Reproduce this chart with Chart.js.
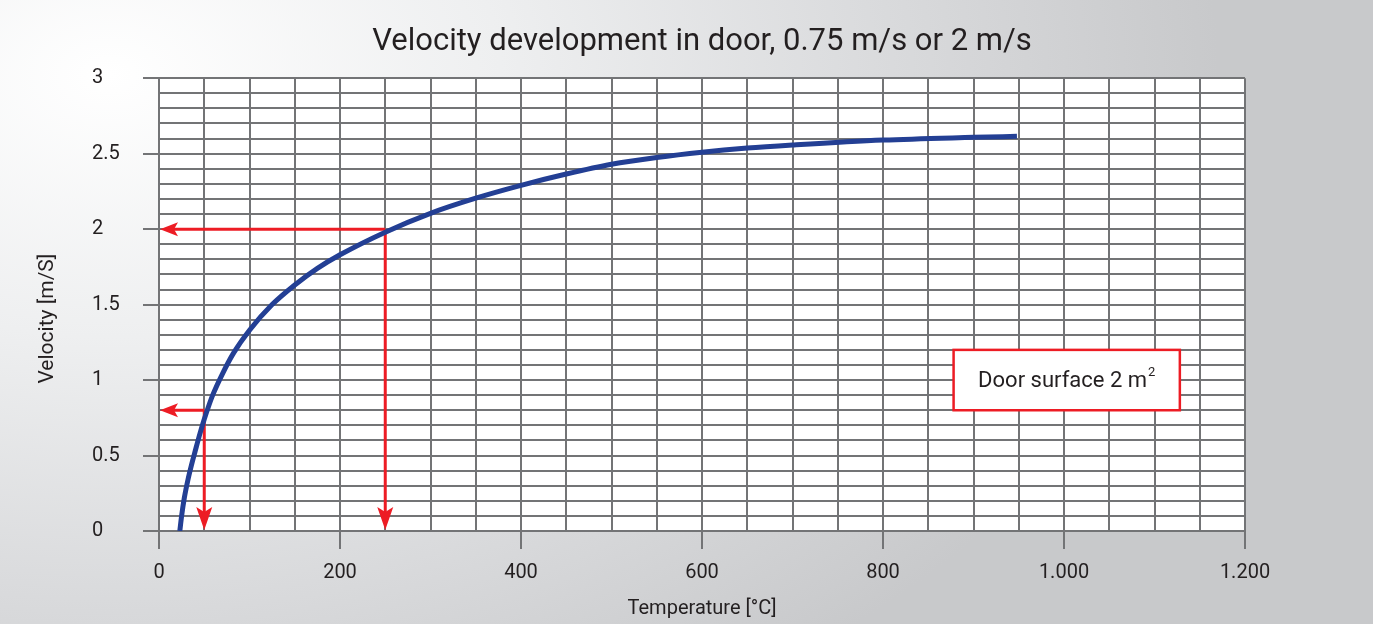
<!DOCTYPE html>
<html>
<head>
<meta charset="utf-8">
<script src="https://cdn.jsdelivr.net/npm/chart.js@4.4.1/dist/chart.umd.min.js"></script>
<style>
  html, body { margin: 0; padding: 0; }
  body {
    width: 1373px; height: 624px; overflow: hidden;
    background: radial-gradient(ellipse 95% 140% at 8% 12%, #ffffff 0%, #eeeff0 30%, #d9dadc 60%, #c8c9cb 85%);
  }
  #wrap { position: relative; width: 1373px; height: 624px; }
</style>
</head>
<body>
<div id="wrap"><canvas id="mycanvas" width="1373" height="624"></canvas></div>
<script>
// curve
var temperature = [23, 25, 28, 32, 36, 40, 45, 50, 55, 60, 70, 82, 100, 125, 150, 175, 200, 250, 300, 350, 400, 450, 500, 550, 600, 650, 700, 800, 900, 948];
var velocity    = [0, 0.10, 0.22, 0.34, 0.44, 0.53, 0.64, 0.74, 0.83, 0.91, 1.04, 1.175, 1.33, 1.50, 1.63, 1.74, 1.83, 1.98, 2.105, 2.205, 2.29, 2.365, 2.43, 2.475, 2.51, 2.537, 2.557, 2.59, 2.608, 2.615];

// red reading arrows: start point on the curve
var arrowTemp = [250, 50];
var arrowVel  = [2, 0.8];

// note box, in data units
var noteText = 'Door surface 2 m';
var noteSup  = '2';
var noteX = [878, 1128];
var noteY = [0.8, 1.2];

var xTicks = [0, 200, 400, 600, 800, 1000, 1200];
var yTicks = [0, 0.5, 1, 1.5, 2, 2.5, 3];

var FONT = 'Roboto, "Open Sans", sans-serif';
var INK = '#231f20';
var GRID = '#737476';
var RED = '#ed1c24';

function isMajor(v, list) {
	for (var i = 0; i < list.length; i++) {
		if (Math.abs(v - list[i]) < 1e-6) return true;
	}
	return false;
}

var points = [];
for (var i = 0; i < temperature.length; i++) {
	points.push({x: temperature[i], y: velocity[i]});
}

var extras = {
	id: 'extras',
	beforeDraw: function(chart) {
		var a = chart.chartArea, ctx = chart.ctx;
		ctx.save();
		ctx.fillStyle = '#ffffff';
		ctx.fillRect(a.left, a.top, a.right - a.left, a.bottom - a.top);
		ctx.restore();
	},
	beforeDatasetsDraw: function(chart) {
		var ctx = chart.ctx, xs = chart.scales.x, ys = chart.scales.y;
		ctx.save();
		ctx.strokeStyle = RED;
		ctx.fillStyle = RED;
		ctx.lineWidth = 3;
		for (var i = 0; i < arrowTemp.length; i++) {
			var px = xs.getPixelForValue(arrowTemp[i]);
			var py = ys.getPixelForValue(arrowVel[i]);
			var x0 = xs.getPixelForValue(0);
			var y0 = ys.getPixelForValue(0);
			ctx.beginPath();
			ctx.moveTo(x0 + 14, py); ctx.lineTo(px, py);
			ctx.moveTo(px, py); ctx.lineTo(px, y0 - 14);
			ctx.stroke();
			// left head
			ctx.beginPath();
			ctx.moveTo(x0 + 1, py);
			ctx.lineTo(x0 + 19, py - 7);
			ctx.lineTo(x0 + 15, py);
			ctx.lineTo(x0 + 19, py + 7);
			ctx.closePath();
			ctx.fill();
			// down head
			ctx.beginPath();
			ctx.moveTo(px, y0 - 1);
			ctx.lineTo(px - 8, y0 - 24);
			ctx.lineTo(px, y0 - 19);
			ctx.lineTo(px + 8, y0 - 24);
			ctx.closePath();
			ctx.fill();
		}
		ctx.restore();
	},
	afterDatasetsDraw: function(chart) {
		var ctx = chart.ctx, xs = chart.scales.x, ys = chart.scales.y;
		var l = xs.getPixelForValue(noteX[0]), r = xs.getPixelForValue(noteX[1]);
		var t = ys.getPixelForValue(noteY[1]), b = ys.getPixelForValue(noteY[0]);
		ctx.save();
		ctx.fillStyle = '#ffffff';
		ctx.fillRect(l, t, r - l, b - t);
		ctx.strokeStyle = RED;
		ctx.lineWidth = 2.5;
		ctx.strokeRect(l, t, r - l, b - t);
		ctx.fillStyle = INK;
		ctx.textBaseline = 'middle';
		ctx.font = '22px ' + FONT;
		var w1 = ctx.measureText(noteText).width;
		ctx.font = '13px ' + FONT;
		var w2 = ctx.measureText(noteSup).width;
		var sx = (l + r) / 2 - (w1 + w2 + 1) / 2;
		var cy = (t + b) / 2 + 1;
		ctx.font = '22px ' + FONT;
		ctx.textAlign = 'left';
		ctx.fillText(noteText, sx, cy);
		ctx.font = '13px ' + FONT;
		ctx.fillText(noteSup, sx + w1 + 1, cy - 8);
		// y axis title
		var a = chart.chartArea;
		ctx.translate(48, (a.top + a.bottom) / 2 + 14);
		ctx.rotate(-Math.PI / 2);
		ctx.textAlign = 'center';
		ctx.font = '21px ' + FONT;
		ctx.fillText('Velocity [m/S]', 0, 0);
		ctx.restore();
	}
};

var ctx = document.getElementById('mycanvas');
var chart = new Chart(ctx, {
	type: 'line',
	data: {
		datasets: [{
			data: points,
			borderColor: '#233f94',
			borderWidth: 5,
			pointRadius: 0,
			fill: false,
			cubicInterpolationMode: 'monotone'
		}]
	},
	options: {
		responsive: false,
		animation: false,
		layout: { padding: { left: 92, right: 128, top: 0, bottom: 0 } },
		plugins: {
			legend: { display: false },
			tooltip: { enabled: false },
			title: {
				display: true,
				fullSize: false,
				text: 'Velocity development in door, 0.75 m/s or 2 m/s',
				color: INK,
				font: { family: FONT, size: 31, weight: 'normal' },
				padding: { top: 24, bottom: 17 }
			}
		},
		scales: {
			x: {
				type: 'linear',
				min: 0, max: 1200,
				border: { display: true, color: GRID, width: 2 },
				grid: {
					color: GRID,
					lineWidth: 2,
					tickLength: 18,
					tickColor: function(c) { return isMajor(c.tick.value, xTicks) ? GRID : 'rgba(0,0,0,0)'; }
				},
				ticks: {
					stepSize: 50,
					autoSkip: false,
					maxRotation: 0,
					padding: 14,
					color: INK,
					font: { family: FONT, size: 20, lineHeight: 1 },
					callback: function(v) {
						if (!isMajor(v, xTicks)) return '';
						return String(v).replace(/\B(?=(\d{3})+(?!\d))/g, '.');
					}
				},
				title: {
					display: true,
					text: 'Temperature [°C]',
					color: INK,
					font: { family: FONT, size: 20 },
					padding: { top: 0, bottom: 3 }
				}
			},
			y: {
				type: 'linear',
				min: 0, max: 3,
				afterFit: function(s) { s.width = 67; },
				border: { display: true, color: GRID, width: 2 },
				grid: {
					color: GRID,
					lineWidth: 2,
					tickLength: 16,
					tickColor: function(c) { return isMajor(c.tick.value, yTicks) ? GRID : 'rgba(0,0,0,0)'; }
				},
				ticks: {
					stepSize: 0.1,
					autoSkip: false,
					crossAlign: 'far',
					padding: 20,
					color: INK,
					font: { family: FONT, size: 20 },
					callback: function(v) {
						if (!isMajor(v, yTicks)) return '';
						return String(Math.round(v * 10) / 10);
					}
				}
			}
		}
	},
	plugins: [extras]
});
</script>
</body>
</html>
